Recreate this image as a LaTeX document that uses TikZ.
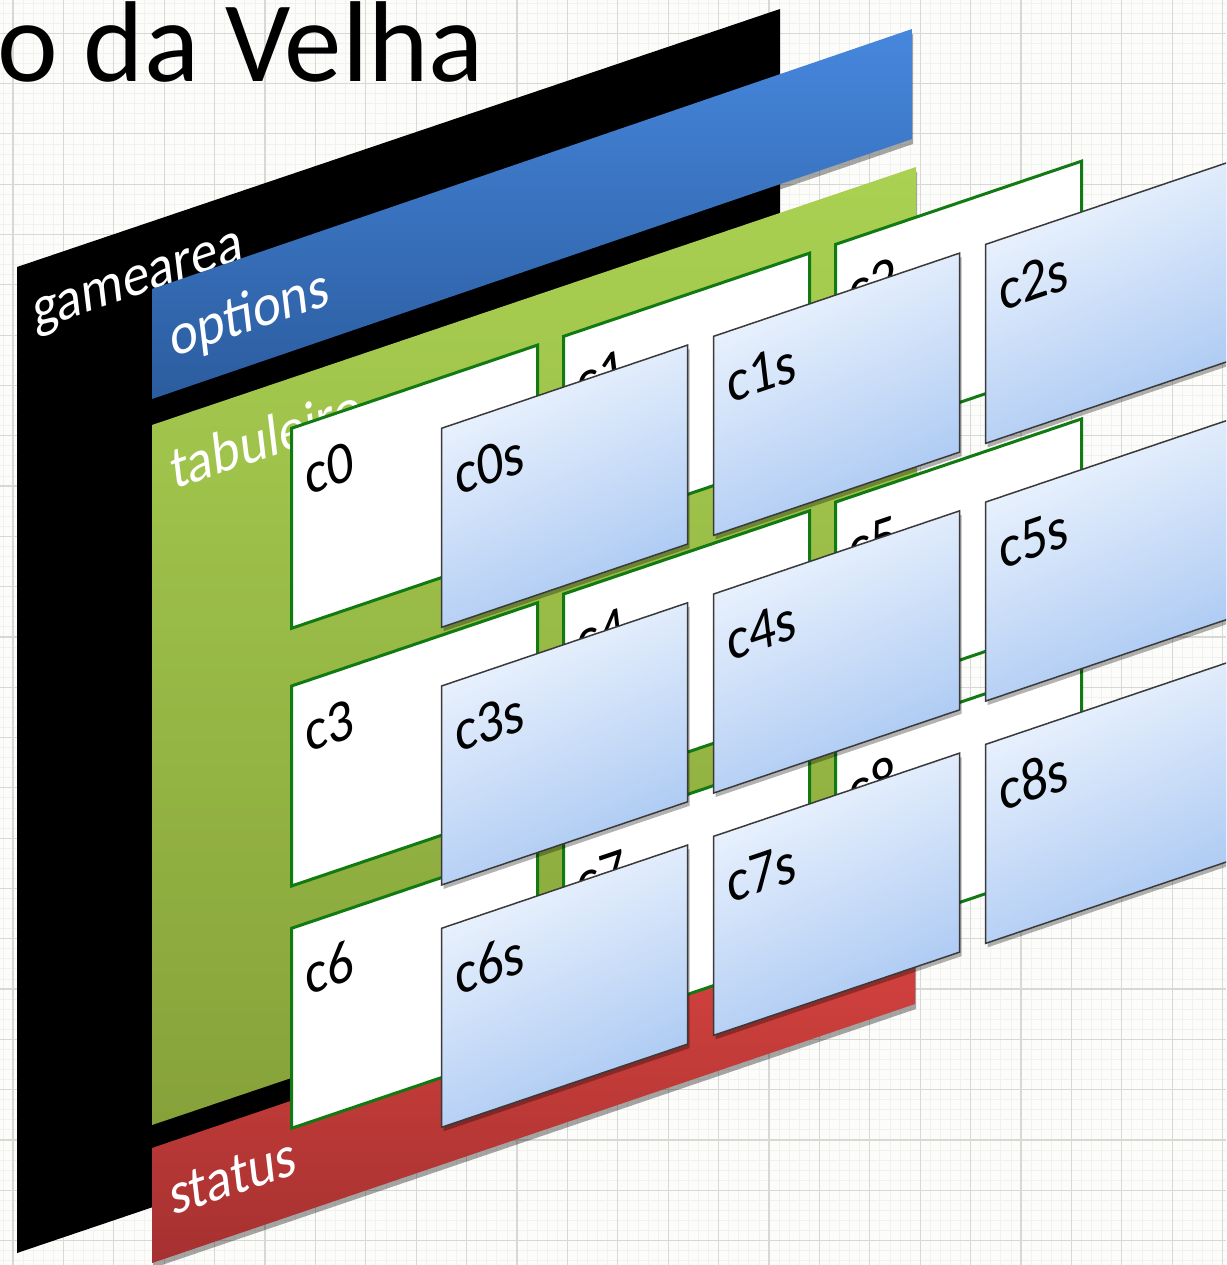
\documentclass[tikz,border=0pt]{standalone}
\usepackage{fontspec}
\setmainfont{Carlito}
\usetikzlibrary{shadows}
\definecolor{bgc}{HTML}{FCFCFA}
\definecolor{gridmajor}{HTML}{D8D9D4}
\definecolor{gridminor}{HTML}{F1F2EE}
\definecolor{optTop}{HTML}{4687DD}
\definecolor{optBot}{HTML}{2B5C9E}
\definecolor{tabTop}{HTML}{AAD152}
\definecolor{tabBot}{HTML}{86A23A}
\definecolor{stTop}{HTML}{DC4541}
\definecolor{stBot}{HTML}{A53130}
\definecolor{cellGreen}{HTML}{127A12}
\definecolor{sTop}{HTML}{F0F6FE}
\definecolor{sBot}{HTML}{A7C6F2}
\definecolor{sEdge}{HTML}{3A3A3A}
\begin{document}
\begin{tikzpicture}[x=1pt,y=-1pt,
  lab/.style={cm={0.88,0.297,-0.12,1,(0,0)}, anchor=base west, inner sep=0pt,
              font=\fontsize{59}{62}\selectfont},
  whitelab/.style={lab, text=white},
  major/.style={draw=gridmajor, line width=1.2pt},
  minor/.style={draw=gridminor, line width=0.8pt},
  layershadow/.style={drop shadow={shadow xshift=1pt, shadow yshift=-5pt, opacity=.35, fill=black}},
  whitecell/.style={fill=white, draw=cellGreen, line width=3pt},
  bluecell/.style={top color=sTop, bottom color=sBot, shading angle=25, draw=sEdge, line width=1.5pt,
                   drop shadow={shadow xshift=2pt, shadow yshift=-4pt, opacity=.3, fill=black}}]
\useasboundingbox (0,0) rectangle (1226,1265);
\clip (0,0) rectangle (1226,1265);
\fill[bgc] (0,0) rectangle (1226,1265);
% grid
\foreach \i in {-1,...,125} { \draw[minor] ({13+10.08*\i},0) -- ({13+10.08*\i},1265); }
\foreach \i in {-4,...,125} { \draw[minor] (0,{33.3+10.06*\i}) -- (1226,{33.3+10.06*\i}); }
\foreach \i in {0,...,24} { \draw[major] ({13+50.4*\i},0) -- ({13+50.4*\i},1265); }
\foreach \i in {0,...,24} { \draw[major] (0,{33.3+50.3*\i}) -- (1226,{33.3+50.3*\i}); }
% title
\node[anchor=base west, inner sep=0pt, font=\fontsize{115}{118}\selectfont] (title) at (-3,82) {o da Velha};
% gamearea
\fill[black] (17,267) -- (780,9) -- (780,995) -- (17,1253) -- cycle;
\node[whitelab] (gamearea) at (35,330) {gamearea};
% options
\path[top color=optTop, bottom color=optBot, layershadow] (152,289) -- (912,29) -- (912,139) -- (152,399) -- cycle;
\node[whitelab] (options) at (172,358) {options};
% tabuleiro
\path[top color=tabTop, bottom color=tabBot, layershadow] (152,425) -- (916,167) -- (916,867) -- (152,1125) -- cycle;
\node[whitelab] (tabuleiro) at (173,490) {tabuleiro};
% status
\path[top color=stTop, bottom color=stBot, layershadow] (152,1148) -- (915,889) -- (915,1004) -- (152,1263) -- cycle;
\node[whitelab] (status) at (172,1216) {status};
% white cells
\foreach \r/\yy in {0/428.3, 1/686, 2/928.3} {
  \foreach \c in {0,1,2} {
    \pgfmathsetmacro\xx{291.5+272*\c}
    \pgfmathsetmacro\ty{\yy-91.94*\c}
    \pgfmathtruncatemacro\n{3*\r+\c}
    \draw[whitecell] (\xx,\ty) -- ++(246,-83.2) -- ++(0,200) -- ++(-246,83.2) -- cycle;
    \node[lab] (c\n) at (\xx+16,\ty+67) {c\n};
  }
}
% blue cells
\foreach \r/\yy in {0/428.3, 1/686, 2/928.3} {
  \foreach \c in {0,1,2} {
    \pgfmathsetmacro\xx{441.5+272*\c}
    \pgfmathsetmacro\ty{\yy-91.94*\c}
    \pgfmathtruncatemacro\n{3*\r+\c}
    \path[bluecell] (\xx,\ty) -- ++(246,-83.2) -- ++(0,199) -- ++(-246,83.2) -- cycle;
    \node[lab] (s\n) at (\xx+16,\ty+67) {c\n s};
  }
}
\end{tikzpicture}
\end{document}
